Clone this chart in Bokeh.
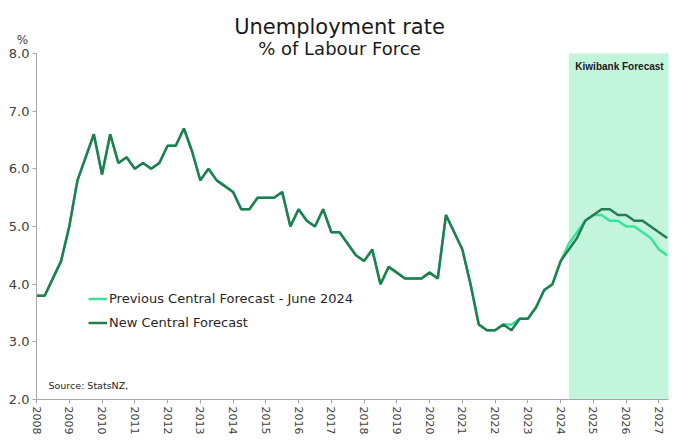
from bokeh.plotting import figure
from bokeh.models import (Range1d, FixedTicker, Label, BoxAnnotation, Legend,
                          LegendItem, NumeralTickFormatter, LinearAxis)
from bokeh.embed import file_html
from bokeh.resources import INLINE

# ---- data (quarterly, index 0 = 2008 Q1) ----
years = [str(y) for y in range(2008, 2028)]
new_central = [
    3.8, 3.8, 4.1, 4.4, 5.0, 5.8, 6.2, 6.6, 5.9, 6.6,
    6.1, 6.2, 6.0, 6.1, 6.0, 6.1, 6.4, 6.4, 6.7, 6.3,
    5.8, 6.0, 5.8, 5.7, 5.6, 5.3, 5.3, 5.5, 5.5, 5.5,
    5.6, 5.0, 5.3, 5.1, 5.0, 5.3, 4.9, 4.9, 4.7, 4.5,
    4.4, 4.6, 4.0, 4.3, 4.2, 4.1, 4.1, 4.1, 4.2, 4.1,
    5.2, 4.9, 4.6, 4.0, 3.3, 3.2, 3.2, 3.3, 3.2, 3.4,
    3.4, 3.6, 3.9, 4.0, 4.4, 4.6, 4.8, 5.1, 5.2, 5.3,
    5.3, 5.2, 5.2, 5.1, 5.1, 5.0, 4.9, 4.8,
]
previous_central = [
    3.8, 3.8, 4.1, 4.4, 5.0, 5.8, 6.2, 6.6, 5.9, 6.6,
    6.1, 6.2, 6.0, 6.1, 6.0, 6.1, 6.4, 6.4, 6.7, 6.3,
    5.8, 6.0, 5.8, 5.7, 5.6, 5.3, 5.3, 5.5, 5.5, 5.5,
    5.6, 5.0, 5.3, 5.1, 5.0, 5.3, 4.9, 4.9, 4.7, 4.5,
    4.4, 4.6, 4.0, 4.3, 4.2, 4.1, 4.1, 4.1, 4.2, 4.1,
    5.2, 4.9, 4.6, 4.0, 3.3, 3.2, 3.2, 3.3, 3.3, 3.4,
    3.4, 3.6, 3.9, 4.0, 4.4, 4.7, 4.9, 5.1, 5.2, 5.2,
    5.1, 5.1, 5.0, 5.0, 4.9, 4.8, 4.6, 4.5,
]
quarters = list(range(len(new_central)))
year_ticks = [4 * i for i in range(len(years))]
y_ticks = [2, 3, 4, 5, 6, 7, 8]
forecast_start = 65  # 2024 Q2

# ---- layout helpers (pixel geometry of the plotting area) ----
W, H = 678, 442
AX_LEFT, AX_RIGHT, AX_TOP, AX_BOTTOM = 36, 668, 53, 399
X_MAX = 77.17
px_q = (AX_RIGHT - AX_LEFT) / X_MAX
px_y = (AX_BOTTOM - AX_TOP) / (y_ticks[-1] - y_ticks[0])
x_range = Range1d(-AX_LEFT / px_q, (W - AX_LEFT) / px_q)
y_range = Range1d(y_ticks[0] - (H - AX_BOTTOM) / px_y, y_ticks[-1] + AX_TOP / px_y)

FONT = "DejaVu Sans"
DARK = "#237d50"
LIGHT = "#38e39a"
SHADE = "#c3f5dc"
AXIS = "#a6a6a6"
TXT = "#404040"

p = figure(width=W, height=H, output_backend="svg", toolbar_location=None,
           x_range=x_range, y_range=y_range, x_axis_location=None,
           y_axis_location=None, min_border=0)
p.title.visible = False
p.outline_line_color = None
p.grid.visible = False
p.background_fill_color = "white"
p.border_fill_color = "white"

p.add_layout(BoxAnnotation(left=forecast_start, right=X_MAX, bottom=y_ticks[0],
                           top=y_ticks[-1], fill_color=SHADE, fill_alpha=1.0,
                           line_color=None, level="underlay"))

r_prev = p.line(quarters, previous_central, line_color=LIGHT, line_width=2.5)
r_new = p.line(quarters, new_central, line_color=DARK, line_width=2.5)

legend = Legend(items=[
    LegendItem(label="Previous Central Forecast - June 2024", renderers=[r_prev]),
    LegendItem(label="New Central Forecast", renderers=[r_new]),
], location=(88, 109), background_fill_alpha=0, border_line_color=None,
    padding=0, margin=0, spacing=3, glyph_width=19, glyph_height=21,
    label_height=21, label_standoff=2, label_text_font=FONT,
    label_text_font_size="13px", label_text_color="#262626")
p.add_layout(legend)

# axes (fixed inside the frame so that outer texts are not clipped)
xaxis = LinearAxis(fixed_location=y_ticks[0], bounds=(0, X_MAX),
                   ticker=FixedTicker(ticks=year_ticks),
                   major_label_overrides={t: y for t, y in zip(year_ticks, years)},
                   major_label_orientation="vertical")
yaxis = LinearAxis(fixed_location=0, bounds=(y_ticks[0], y_ticks[-1]),
                   ticker=FixedTicker(ticks=y_ticks),
                   formatter=NumeralTickFormatter(format="0.0"))
for ax in (xaxis, yaxis):
    ax.axis_line_color = AXIS
    ax.major_tick_line_color = AXIS
    ax.minor_tick_line_color = None
    ax.major_tick_in = 0
    ax.major_tick_out = 4
    ax.major_label_text_font = FONT
    ax.major_label_text_color = TXT
    ax.major_label_standoff = 3
xaxis.major_label_text_font_size = "11px"
yaxis.major_label_text_font_size = "13px"
p.add_layout(xaxis, "below")
p.add_layout(yaxis, "left")

def lab(x, y, text, size, align="left", font=FONT, style="normal", color="#1a1a1a"):
    p.add_layout(Label(x=x, y=y, x_units="canvas", y_units="canvas", text=text,
                       text_align=align, text_baseline="alphabetic",
                       text_font=font, text_font_size=size, text_font_style=style,
                       text_color=color))

lab(339, 26, "Unemployment rate", "21px", align="center")
lab(339, 48, "% of Labour Force", "18px", align="center")
lab(22, 39, "%", "12px", align="center", color=TXT)
lab(619, 66, "Kiwibank Forecast", "10px", align="center",
    font="Liberation Sans", style="bold", color="#1a1a1a")
lab(48, 385, "Source: StatsNZ,", "9.5px", color="#262626")

open("out.html", "w").write(file_html(p, INLINE))
